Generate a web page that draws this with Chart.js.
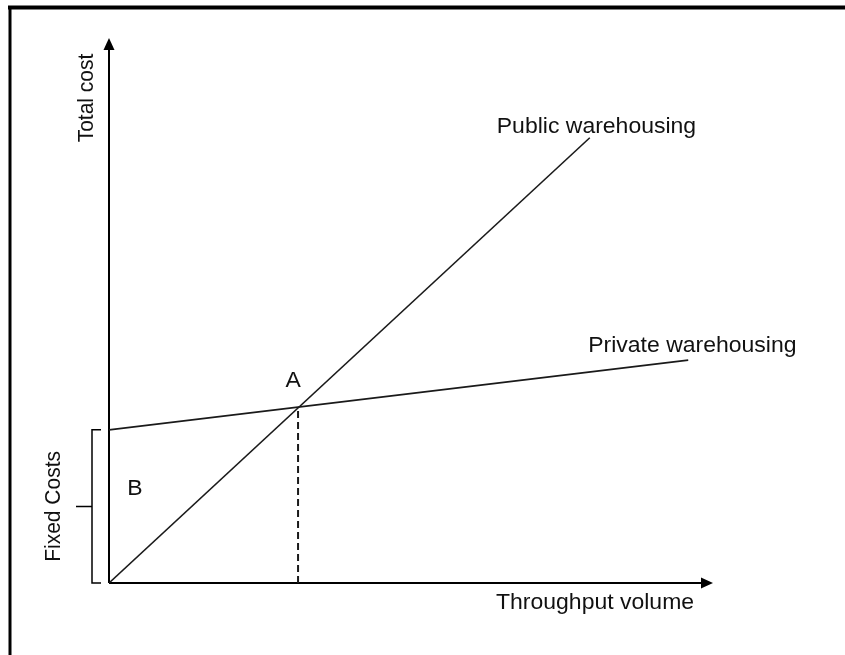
<!DOCTYPE html>
<html>
<head>
    <title>Public vs Private Warehousing</title>
    <script src="https://cdn.jsdelivr.net/npm/chart.js"></script>
    <style>
        body { margin: 0; background: #fff; }
    </style>
</head>
<body>
    <canvas id="myChart" width="845" height="655"></canvas>

    <script>
        // chart values (axes run 0..100)
        var publicX = [0, 79.6];
        var publicY = [0, 81.7];
        var privateX = [0, 95.9];
        var privateY = [28.1, 40.9];
        var breakEvenX = [31.3, 31.3];
        var breakEvenY = [0, 32.3];
        var fixedCost = 28.1;

        // texts
        var seriesLabels = ["Public warehousing", "Private warehousing"];
        var xTitle = "Throughput volume";
        var yTitle = "Total cost";
        var pointLabels = ["A", "B"];
        var bracketLabel = "Fixed Costs";

        function toPoints(xs, ys) {
            return xs.map(function (x, i) { return { x: x, y: ys[i] }; });
        }

        var FAMILY = "'Liberation Sans', Arial, sans-serif";
        var INK = "#111";
        var STRETCH = 1.045; // source picture is a little wider than tall

        function arrowHead(ctx, x, y, dir) {
            ctx.beginPath();
            if (dir === "right") {
                ctx.moveTo(x, y);
                ctx.lineTo(x - 12, y - 5.5);
                ctx.lineTo(x - 12, y + 5.5);
            } else {
                ctx.moveTo(x, y);
                ctx.lineTo(x - 5.5, y + 12);
                ctx.lineTo(x + 5.5, y + 12);
            }
            ctx.closePath();
            ctx.fill();
        }

        // horizontal text, widened a bit
        function wideText(ctx, text, x, y) {
            ctx.save();
            ctx.translate(x, y);
            ctx.scale(STRETCH, 1);
            ctx.fillText(text, 0, 0);
            ctx.restore();
        }

        function upText(ctx, text, x, y) {
            ctx.save();
            ctx.translate(x, y);
            ctx.scale(STRETCH, 1);
            ctx.rotate(-Math.PI / 2);
            ctx.fillText(text, 0, 0);
            ctx.restore();
        }

        // frame, axes, bracket and labels
        var decorPlugin = {
            id: "decor",
            beforeDatasetsDraw: function (chart) {
                var ctx = chart.ctx;
                var a = chart.chartArea;
                ctx.save();
                ctx.strokeStyle = "#000";
                ctx.fillStyle = "#000";

                // page frame (top and left)
                ctx.lineWidth = 4;
                ctx.beginPath();
                ctx.moveTo(8, 7.5);
                ctx.lineTo(845, 7.5);
                ctx.stroke();
                ctx.lineWidth = 3;
                ctx.beginPath();
                ctx.moveTo(10, 6);
                ctx.lineTo(10, 655);
                ctx.stroke();

                // axes with arrows
                ctx.lineWidth = 2;
                ctx.beginPath();
                ctx.moveTo(a.left, a.bottom);
                ctx.lineTo(a.right - 8, a.bottom);
                ctx.moveTo(a.left, a.bottom);
                ctx.lineTo(a.left, a.top + 8);
                ctx.stroke();
                arrowHead(ctx, a.right, a.bottom, "right");
                arrowHead(ctx, a.left, a.top, "up");

                // fixed costs bracket
                var yScale = chart.scales.y;
                var yTop = yScale.getPixelForValue(fixedCost);
                var yBot = yScale.getPixelForValue(0);
                var bx = a.left - 17;
                ctx.lineWidth = 1.5;
                ctx.beginPath();
                ctx.moveTo(bx + 9, yTop);
                ctx.lineTo(bx, yTop);
                ctx.lineTo(bx, yBot);
                ctx.lineTo(bx + 9, yBot);
                ctx.moveTo(bx, (yTop + yBot) / 2);
                ctx.lineTo(bx - 16, (yTop + yBot) / 2);
                ctx.stroke();
                ctx.restore();
            },
            afterDatasetsDraw: function (chart) {
                var ctx = chart.ctx;
                var a = chart.chartArea;
                var xs = chart.scales.x;
                var ys = chart.scales.y;
                ctx.save();
                ctx.font = "22px " + FAMILY;
                ctx.fillStyle = INK;
                ctx.textBaseline = "alphabetic";

                // series labels near the line ends
                ctx.textAlign = "left";
                wideText(ctx, seriesLabels[0], xs.getPixelForValue(publicX[1]) - 93, ys.getPixelForValue(publicY[1]) - 5);
                wideText(ctx, seriesLabels[1], xs.getPixelForValue(privateX[1]) - 100, ys.getPixelForValue(privateY[1]) - 8);

                // point labels
                ctx.textAlign = "center";
                wideText(ctx, pointLabels[0], xs.getPixelForValue(breakEvenX[1]) - 5, ys.getPixelForValue(breakEvenY[1]) - 20);
                var midFixed = (ys.getPixelForValue(fixedCost) + ys.getPixelForValue(0)) / 2;
                wideText(ctx, pointLabels[1], a.left + 26, midFixed - 11);

                // axis titles
                ctx.textAlign = "left";
                wideText(ctx, xTitle, a.right - 217, a.bottom + 26);

                ctx.font = "21px " + FAMILY;
                ctx.textAlign = "center";
                ctx.textBaseline = "middle";
                upText(ctx, yTitle, a.left - 22, a.top + 60);
                upText(ctx, bracketLabel, a.left - 55, midFixed);

                ctx.restore();
            }
        };

        var ctx = document.getElementById("myChart").getContext("2d");
        new Chart(ctx, {
            type: "scatter",
            data: {
                datasets: [
                    {
                        label: seriesLabels[0],
                        data: toPoints(publicX, publicY),
                        showLine: true,
                        borderColor: "#1a1a1a",
                        borderWidth: 1.6,
                        pointRadius: 0
                    },
                    {
                        label: seriesLabels[1],
                        data: toPoints(privateX, privateY),
                        showLine: true,
                        borderColor: "#1a1a1a",
                        borderWidth: 1.6,
                        pointRadius: 0
                    },
                    {
                        label: "break-even",
                        data: toPoints(breakEvenX, breakEvenY),
                        showLine: true,
                        borderColor: "#1a1a1a",
                        borderWidth: 2,
                        borderDash: [7, 4],
                        pointRadius: 0
                    }
                ]
            },
            options: {
                responsive: false,
                animation: false,
                layout: {
                    padding: { left: 109, right: 132, top: 38, bottom: 72 }
                },
                plugins: {
                    legend: { display: false },
                    tooltip: { enabled: false }
                },
                scales: {
                    x: { type: "linear", min: 0, max: 100, display: false },
                    y: { type: "linear", min: 0, max: 100, display: false }
                }
            },
            plugins: [decorPlugin]
        });
    </script>
</body>
</html>
